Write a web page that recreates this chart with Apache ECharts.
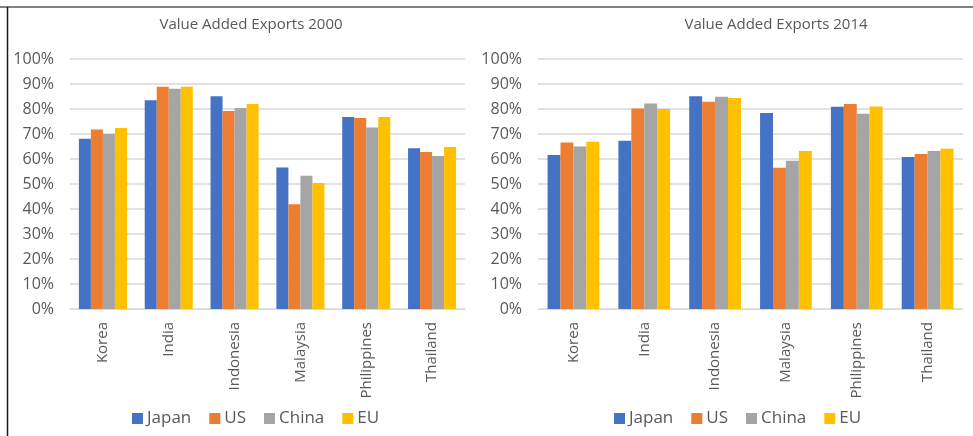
<!DOCTYPE html>
<html><head><meta charset="utf-8">
<script src="https://cdn.jsdelivr.net/npm/echarts@6/dist/echarts.min.js"></script>
<style>html,body{margin:0;padding:0;background:#fff}#c{width:973px;height:436px}</style>
</head><body><div id="c"></div>
<script>
const categories = ['Korea','India','Indonesia','Malaysia','Philippines','Thailand'];
const seriesNames = ['Japan','US','China','EU'];
const colors = ['#4472C4','#ED7D31','#A5A5A5','#FFC000'];
const titles = ['Value Added Exports 2000','Value Added Exports 2014'];
const yTicks = [0,10,20,30,40,50,60,70,80,90,100];
// values in percent
const japan2000 = [68.1, 83.5, 85.1, 56.6, 76.8, 64.3];
const us2000    = [71.8, 88.9, 79.2, 41.9, 76.4, 62.8];
const china2000 = [70.0, 88.1, 80.4, 53.3, 72.6, 61.2];
const eu2000    = [72.4, 88.9, 82.0, 50.4, 76.8, 64.8];
const japan2014 = [61.6, 67.3, 85.1, 78.4, 80.9, 60.8];
const us2014    = [66.6, 80.2, 82.9, 56.5, 82.0, 62.0];
const china2014 = [65.0, 82.2, 84.9, 59.3, 78.1, 63.2];
const eu2014    = [66.9, 80.0, 84.4, 63.2, 81.0, 64.1];

const data = [[japan2000, us2000, china2000, eu2000],[japan2014, us2014, china2014, eu2014]];
const FONT = 'Open Sans';
const labelColor = '#595959';

const grids = [
  {left:70, right:508, top:59, bottom:127},
  {left:538, right:10, top:59, bottom:127}
];
const xAxes = grids.map((g,i)=>({
  type:'category', gridIndex:i, data:categories,
  axisLine:{lineStyle:{color:'#d9d9d9'}}, axisTick:{show:false},
  axisLabel:{rotate:90, color:labelColor, fontFamily:FONT, fontSize:15, margin:13}
}));
const yAxes = grids.map((g,i)=>({
  type:'value', gridIndex:i, min:yTicks[0], max:yTicks[yTicks.length-1], interval:10,
  axisLine:{show:false}, axisTick:{show:false},
  splitLine:{lineStyle:{color:'#d9d9d9', width:1.5}},
  axisLabel:{color:labelColor, fontFamily:FONT, fontSize:16, margin:16, formatter:v=>v+'%'}
}));
const series = [];
data.forEach((set,gi)=>{
  set.forEach((vals,si)=>{
    series.push({
      type:'bar', name:seriesNames[si], xAxisIndex:gi, yAxisIndex:gi, data:vals,
      itemStyle:{color:colors[si]}, barGap:'0%', barCategoryGap:'27%'
    });
  });
});
const legendBase = {
  data:seriesNames, icon:'rect', itemWidth:11, itemHeight:11, itemGap:18,
  textStyle:{color:labelColor, fontFamily:FONT, fontSize:17, padding:[0,0,0,-1]}, top:405
};
const chart = echarts.init(document.getElementById('c'));
chart.setOption({
  animation:false,
  title:[
    {text:titles[0], left:246, top:12, textAlign:'center', textStyle:{color:labelColor, fontFamily:FONT, fontSize:15, fontWeight:'normal'}},
    {text:titles[1], left:771, top:12, textAlign:'center', textStyle:{color:labelColor, fontFamily:FONT, fontSize:15, fontWeight:'normal'}}
  ],
  legend:[Object.assign({left:127}, legendBase), Object.assign({left:609}, legendBase)],
  grid:grids, xAxis:xAxes, yAxis:yAxes, series:series,
  graphic:[
    {type:'line', shape:{x1:0,y1:7,x2:973,y2:7}, style:{stroke:'#808080', lineWidth:2}},
    {type:'line', shape:{x1:7.5,y1:7,x2:7.5,y2:436}, style:{stroke:'#1a1a1a', lineWidth:1.5}}
  ]
});
</script></body></html>
